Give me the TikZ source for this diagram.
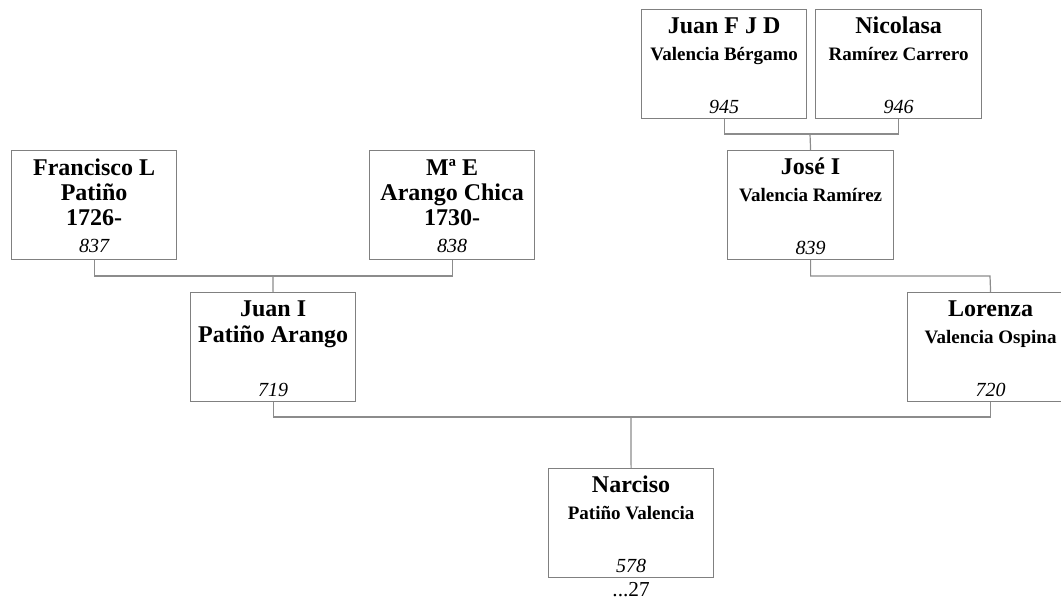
\documentclass[tikz,border=0pt]{standalone}
\usepackage{fontspec}
\setmainfont{Liberation Serif}
\definecolor{boxgray}{RGB}{128,128,128}
\definecolor{linegray}{RGB}{140,140,140}
\begin{document}
\begin{tikzpicture}[x=1pt,y=-1pt,
  box/.style={draw=boxgray, line width=1.2pt, minimum width=165pt, minimum height=109pt, inner sep=0pt, anchor=north west},
  big/.style={font=\fontsize{24}{25}\selectfont\bfseries, anchor=base, inner sep=0pt},
  small/.style={font=\fontsize{19}{20}\selectfont\bfseries, anchor=base, inner sep=0pt},
  num/.style={font=\fontsize{20}{22}\selectfont\itshape, anchor=base, inner sep=0pt},
  gen/.style={font=\fontsize{21.3}{22}\selectfont, anchor=base, inner sep=0pt},
  link/.style={draw=linegray, line width=1.2pt}]
\useasboundingbox (0,0) rectangle (1061,600);
\clip (0,0) rectangle (1061,600);

% boxes
\node[box] (fr)  at (11,150) {};
\node[box] (mae) at (369,150) {};
\node[box] (ji)  at (190,292) {};
\node[box] (jf)  at (641,9) {};
\node[box, minimum width=166pt] (ni) at (815,9) {};
\node[box, minimum width=166pt] (jo) at (727,150) {};
\node[box, minimum width=166pt] (lo) at (907,292) {};
\node[box] (na)  at (548,468) {};

% texts: Francisco
\node[big] (fr-a) at ([yshift=-25pt]fr.north) {Francisco L};
\node[big] (fr-b) at ([yshift=-50pt]fr.north) {Patiño};
\node[big] (fr-c) at ([yshift=-75pt]fr.north) {1726-};
\node[num] (fr-n) at ([yshift=8pt]fr.south) {837};
% Ma E
\node[big] (mae-a) at ([yshift=-25pt]mae.north) {Mª E};
\node[big] (mae-b) at ([yshift=-50pt]mae.north) {Arango Chica};
\node[big] (mae-c) at ([yshift=-75pt]mae.north) {1730-};
\node[num] (mae-n) at ([yshift=8pt]mae.south) {838};
% Juan I
\node[big] (ji-a) at ([yshift=-24pt]ji.north) {Juan I};
\node[big] (ji-b) at ([yshift=-50pt]ji.north) {Patiño Arango};
\node[num] (ji-n) at ([yshift=6pt]ji.south) {719};
% Juan F J D
\node[big] (jf-a) at ([yshift=-24pt]jf.north) {Juan F J D};
\node[small] (jf-b) at ([yshift=-51.5pt]jf.north) {Valencia Bérgamo};
\node[num] (jf-n) at ([yshift=6pt]jf.south) {945};
% Nicolasa
\node[big] (ni-a) at ([yshift=-24pt]ni.north) {Nicolasa};
\node[small] (ni-b) at ([yshift=-51.5pt]ni.north) {Ramírez Carrero};
\node[num] (ni-n) at ([yshift=6pt]ni.south) {946};
% Jose I
\node[big] (jo-a) at ([yshift=-24pt]jo.north) {José I};
\node[small] (jo-b) at ([yshift=-51.5pt]jo.north) {Valencia Ramírez};
\node[num] (jo-n) at ([yshift=6pt]jo.south) {839};
% Lorenza
\node[big] (lo-a) at ([yshift=-24pt]lo.north) {Lorenza};
\node[small] (lo-b) at ([yshift=-51.5pt]lo.north) {Valencia Ospina};
\node[num] (lo-n) at ([yshift=6pt]lo.south) {720};
% Narciso
\node[big] (na-a) at ([yshift=-24pt]na.north) {Narciso};
\node[small] (na-b) at ([yshift=-51.5pt]na.north) {Patiño Valencia};
\node[num] (na-n) at ([yshift=6pt]na.south) {578};
\node[gen] (na-g) at ([yshift=-18.5pt]na.south) {...27};

% connectors
\coordinate (b1) at (273,276);
\draw[link] (fr.south) |- (b1) -| (mae.south);
\draw[link] (b1) -- (ji.north);

\coordinate (b2) at (810,134);
\draw[link] (jf.south) |- (b2) -| (ni.south);
\draw[link] (b2) -- (jo.north);

\coordinate (b3) at (990,276);
\draw[link] (jo.south) |- (b3) -- (lo.north);

\coordinate (b4) at (631,417);
\draw[link] (ji.south) |- (b4) -| (lo.south);
\draw[link] (b4) -- (na.north);
\end{tikzpicture}
\end{document}
